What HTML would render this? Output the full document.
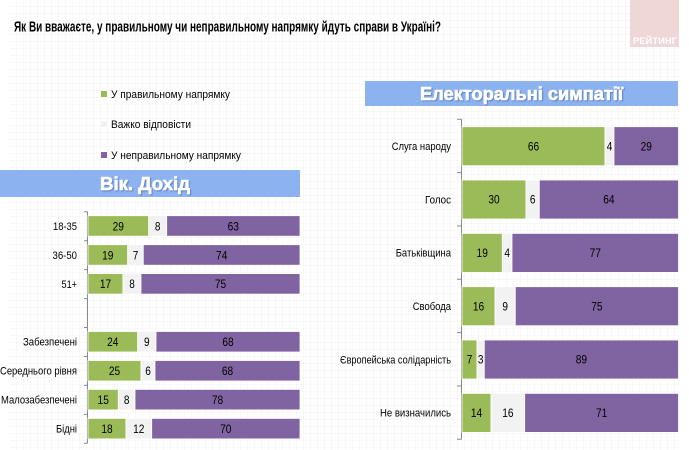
<!DOCTYPE html>
<html><head><meta charset="utf-8">
<style>
html,body{margin:0;padding:0;background:#fff;}
svg{display:block;}
text{font-family:"Liberation Sans",sans-serif;}
</style></head>
<body>
<svg width="689" height="450" viewBox="0 0 689 450" xmlns="http://www.w3.org/2000/svg">
<defs>
<pattern id="grid" width="7" height="7" patternUnits="userSpaceOnUse" x="10" y="0">
<path d="M7 0V7M0 7H7" fill="none" stroke="#f2f2f2" stroke-width="1"/>
</pattern>
<filter id="sh" x="-5%" y="-20%" width="110%" height="150%">
<feDropShadow dx="1" dy="1" stdDeviation="0.6" flood-color="#4a6aa0" flood-opacity="0.7"/>
</filter>
</defs>
<rect x="0" y="0" width="689" height="450" fill="#fff"/>
<rect x="10" y="0" width="669" height="450" fill="url(#grid)"/>

<!-- title -->
<text x="14" y="31.5" font-size="15" font-weight="bold" fill="#000" textLength="427" lengthAdjust="spacingAndGlyphs">Як Ви вважаєте, у правильному чи неправильному напрямку йдуть справи в Україні?</text>

<!-- logo -->
<rect x="630" y="0" width="49" height="47" fill="#f0d7d7"/>
<text x="633" y="44" font-size="9.5" font-weight="bold" fill="#fff" textLength="44" lengthAdjust="spacingAndGlyphs">РЕЙТИНГ</text>

<!-- legend -->
<rect x="101" y="91" width="6" height="6" fill="#9bbb59"/>
<text x="111" y="98" font-size="11" fill="#000" textLength="119" lengthAdjust="spacingAndGlyphs">У правильному напрямку</text>
<rect x="101" y="121" width="6" height="6" fill="#f2f2f2"/>
<text x="111" y="128" font-size="11" fill="#000" textLength="80" lengthAdjust="spacingAndGlyphs">Важко відповісти</text>
<rect x="101" y="152" width="6" height="6" fill="#8064a2"/>
<text x="111" y="159" font-size="11" fill="#000" textLength="130" lengthAdjust="spacingAndGlyphs">У неправильному напрямку</text>

<!-- banners -->
<rect x="0" y="170" width="300" height="27" fill="#8db2f0"/>
<text x="100" y="190" font-size="18" font-weight="bold" fill="#fff" filter="url(#sh)" textLength="90" lengthAdjust="spacingAndGlyphs" stroke="#fff" stroke-width="0.6">Вік. Дохід</text>
<rect x="365" y="81" width="313" height="25" fill="#8db2f0"/>
<text x="420" y="100" font-size="18" font-weight="bold" fill="#fff" filter="url(#sh)" textLength="203" lengthAdjust="spacingAndGlyphs" stroke="#fff" stroke-width="0.6">Електоральні симпатії</text>

<!-- LEFT CHART -->
<g stroke="#8a8a8a" stroke-width="1" fill="none">
<path d="M87.5 211.7V443.3"/>
<path d="M84 211.7H87.5M84 240.7H87.5M84 269.6H87.5M84 298.6H87.5M84 327.5H87.5M84 356.5H87.5M84 385.4H87.5M84 414.4H87.5M84 443.3H87.5"/>
</g>
<g stroke="#fff" stroke-width="0.8">
<rect x="88" y="215.7" width="60.7" height="20.5" fill="#9bbb59"/>
<rect x="148.7" y="215.7" width="18" height="20.5" fill="#f2f2f2"/>
<rect x="166.7" y="215.7" width="133.3" height="20.5" fill="#8064a2"/>
<rect x="88" y="244.7" width="39.7" height="20.5" fill="#9bbb59"/>
<rect x="127.7" y="244.7" width="15.6" height="20.5" fill="#f2f2f2"/>
<rect x="143.3" y="244.7" width="156.7" height="20.5" fill="#8064a2"/>
<rect x="88" y="273.6" width="35" height="20.5" fill="#9bbb59"/>
<rect x="123" y="273.6" width="18" height="20.5" fill="#f2f2f2"/>
<rect x="141" y="273.6" width="159" height="20.5" fill="#8064a2"/>
<rect x="88" y="331.5" width="49.7" height="20.5" fill="#9bbb59"/>
<rect x="137.7" y="331.5" width="18.3" height="20.5" fill="#f2f2f2"/>
<rect x="156" y="331.5" width="144" height="20.5" fill="#8064a2"/>
<rect x="88" y="360.5" width="53" height="20.5" fill="#9bbb59"/>
<rect x="141" y="360.5" width="14" height="20.5" fill="#f2f2f2"/>
<rect x="155" y="360.5" width="145" height="20.5" fill="#8064a2"/>
<rect x="88" y="389.4" width="30.3" height="20.5" fill="#9bbb59"/>
<rect x="118.3" y="389.4" width="16.7" height="20.5" fill="#f2f2f2"/>
<rect x="135" y="389.4" width="165" height="20.5" fill="#8064a2"/>
<rect x="88" y="418.4" width="38" height="20.5" fill="#9bbb59"/>
<rect x="126" y="418.4" width="25.7" height="20.5" fill="#f2f2f2"/>
<rect x="151.7" y="418.4" width="148.3" height="20.5" fill="#8064a2"/>
</g>

<g font-size="11" fill="#000" text-anchor="end">
<text x="77" y="229.9" textLength="24" lengthAdjust="spacingAndGlyphs">18-35</text>
<text x="77" y="258.9" textLength="24.5" lengthAdjust="spacingAndGlyphs">36-50</text>
<text x="77" y="287.8" textLength="15.5" lengthAdjust="spacingAndGlyphs">51+</text>
<text x="77" y="345.7" textLength="54" lengthAdjust="spacingAndGlyphs">Забезпечені</text>
<text x="77" y="374.7" textLength="77" lengthAdjust="spacingAndGlyphs">Середнього рівня</text>
<text x="77" y="403.6" textLength="76" lengthAdjust="spacingAndGlyphs">Малозабезпечені</text>
<text x="77" y="432.6" textLength="21" lengthAdjust="spacingAndGlyphs">Бідні</text>
</g>

<g font-size="12" fill="#000" text-anchor="middle" lengthAdjust="spacingAndGlyphs">
<text x="118.3" y="230.3" textLength="11.3" lengthAdjust="spacingAndGlyphs">29</text><text x="157.7" y="230.3" textLength="5.6" lengthAdjust="spacingAndGlyphs">8</text><text x="233.3" y="230.3" textLength="11.3" lengthAdjust="spacingAndGlyphs">63</text>
<text x="107.8" y="259.3" textLength="11.3" lengthAdjust="spacingAndGlyphs">19</text><text x="135.5" y="259.3" textLength="5.6" lengthAdjust="spacingAndGlyphs">7</text><text x="221.7" y="259.3" textLength="11.3" lengthAdjust="spacingAndGlyphs">74</text>
<text x="105.5" y="288.2" textLength="11.3" lengthAdjust="spacingAndGlyphs">17</text><text x="132" y="288.2" textLength="5.6" lengthAdjust="spacingAndGlyphs">8</text><text x="220.5" y="288.2" textLength="11.3" lengthAdjust="spacingAndGlyphs">75</text>
<text x="112.8" y="346.1" textLength="11.3" lengthAdjust="spacingAndGlyphs">24</text><text x="146.8" y="346.1" textLength="5.6" lengthAdjust="spacingAndGlyphs">9</text><text x="228" y="346.1" textLength="11.3" lengthAdjust="spacingAndGlyphs">68</text>
<text x="114.5" y="375.1" textLength="11.3" lengthAdjust="spacingAndGlyphs">25</text><text x="148" y="375.1" textLength="5.6" lengthAdjust="spacingAndGlyphs">6</text><text x="227.5" y="375.1" textLength="11.3" lengthAdjust="spacingAndGlyphs">68</text>
<text x="103.2" y="404" textLength="11.3" lengthAdjust="spacingAndGlyphs">15</text><text x="126.7" y="404" textLength="5.6" lengthAdjust="spacingAndGlyphs">8</text><text x="217.5" y="404" textLength="11.3" lengthAdjust="spacingAndGlyphs">78</text>
<text x="107" y="433" textLength="11.3" lengthAdjust="spacingAndGlyphs">18</text><text x="138.8" y="433" textLength="11.3" lengthAdjust="spacingAndGlyphs">12</text><text x="225.8" y="433" textLength="11.3" lengthAdjust="spacingAndGlyphs">70</text>
</g>

<!-- RIGHT CHART -->
<g stroke="#8a8a8a" stroke-width="1" fill="none">
<path d="M461.5 119.3V439.3"/>
<path d="M457 119.3H461.5M457 172.6H461.5M457 226H461.5M457 279.3H461.5M457 332.6H461.5M457 386H461.5M457 439.3H461.5"/>
</g>
<g stroke="#fff" stroke-width="0.8">
<rect x="462" y="126.7" width="143" height="39" fill="#9bbb59"/>
<rect x="605" y="126.7" width="9" height="39" fill="#f2f2f2"/>
<rect x="614" y="126.7" width="64.5" height="39" fill="#8064a2"/>
<rect x="462" y="180" width="64" height="39" fill="#9bbb59"/>
<rect x="526" y="180" width="13.3" height="39" fill="#f2f2f2"/>
<rect x="539.3" y="180" width="139.2" height="39" fill="#8064a2"/>
<rect x="462" y="233.4" width="40.3" height="39" fill="#9bbb59"/>
<rect x="502.3" y="233.4" width="9.7" height="39" fill="#f2f2f2"/>
<rect x="512" y="233.4" width="166.5" height="39" fill="#8064a2"/>
<rect x="462" y="286.7" width="33" height="39" fill="#9bbb59"/>
<rect x="495" y="286.7" width="20.3" height="39" fill="#f2f2f2"/>
<rect x="515.3" y="286.7" width="163.2" height="39" fill="#8064a2"/>
<rect x="462" y="340" width="15" height="39" fill="#9bbb59"/>
<rect x="477" y="340" width="7.3" height="39" fill="#f2f2f2"/>
<rect x="484.3" y="340" width="194.2" height="39" fill="#8064a2"/>
<rect x="462" y="393.4" width="29" height="39" fill="#9bbb59"/>
<rect x="491" y="393.4" width="33.7" height="39" fill="#f2f2f2"/>
<rect x="524.7" y="393.4" width="153.8" height="39" fill="#8064a2"/>
</g>

<g font-size="11" fill="#000" text-anchor="end">
<text x="451" y="150" textLength="59.3" lengthAdjust="spacingAndGlyphs">Слуга народу</text>
<text x="451" y="203.3" textLength="26" lengthAdjust="spacingAndGlyphs">Голос</text>
<text x="451" y="256.7" textLength="55.3" lengthAdjust="spacingAndGlyphs">Батьківщина</text>
<text x="451" y="310" textLength="38.3" lengthAdjust="spacingAndGlyphs">Свобода</text>
<text x="451" y="363.3" textLength="111" lengthAdjust="spacingAndGlyphs">Європейська солідарність</text>
<text x="451" y="416.7" textLength="71" lengthAdjust="spacingAndGlyphs">Не визначились</text>
</g>

<g font-size="12" fill="#000" text-anchor="middle">
<text x="533.5" y="150.4" textLength="11.3" lengthAdjust="spacingAndGlyphs">66</text><text x="609.5" y="150.4" textLength="5.6" lengthAdjust="spacingAndGlyphs">4</text><text x="646.3" y="150.4" textLength="11.3" lengthAdjust="spacingAndGlyphs">29</text>
<text x="494" y="203.7" textLength="11.3" lengthAdjust="spacingAndGlyphs">30</text><text x="532.7" y="203.7" textLength="5.6" lengthAdjust="spacingAndGlyphs">6</text><text x="608.9" y="203.7" textLength="11.3" lengthAdjust="spacingAndGlyphs">64</text>
<text x="482.2" y="257.1" textLength="11.3" lengthAdjust="spacingAndGlyphs">19</text><text x="507.2" y="257.1" textLength="5.6" lengthAdjust="spacingAndGlyphs">4</text><text x="595.3" y="257.1" textLength="11.3" lengthAdjust="spacingAndGlyphs">77</text>
<text x="478.5" y="310.4" textLength="11.3" lengthAdjust="spacingAndGlyphs">16</text><text x="505.2" y="310.4" textLength="5.6" lengthAdjust="spacingAndGlyphs">9</text><text x="596.9" y="310.4" textLength="11.3" lengthAdjust="spacingAndGlyphs">75</text>
<text x="469.5" y="363.7" textLength="5.6" lengthAdjust="spacingAndGlyphs">7</text><text x="480.7" y="363.7" textLength="5.6" lengthAdjust="spacingAndGlyphs">3</text><text x="581.4" y="363.7" textLength="11.3" lengthAdjust="spacingAndGlyphs">89</text>
<text x="476.5" y="417.1" textLength="11.3" lengthAdjust="spacingAndGlyphs">14</text><text x="507.9" y="417.1" textLength="11.3" lengthAdjust="spacingAndGlyphs">16</text><text x="601.6" y="417.1" textLength="11.3" lengthAdjust="spacingAndGlyphs">71</text>
</g>
</svg>
</body></html>
